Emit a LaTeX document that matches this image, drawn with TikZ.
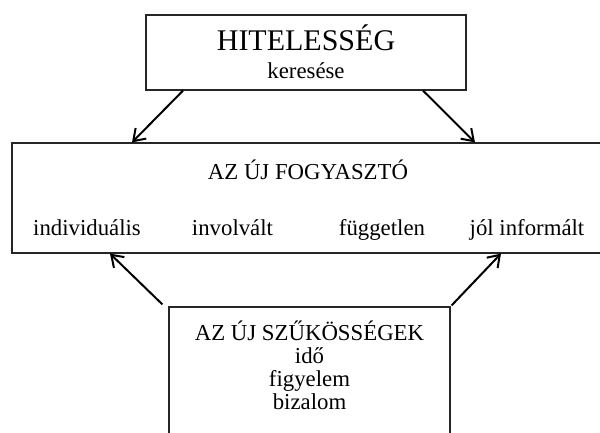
\documentclass[tikz,border=0pt]{standalone}
\usepackage{fontspec}
\setmainfont{Liberation Serif}
\usetikzlibrary{arrows.meta}
\begin{document}
\begin{tikzpicture}[x=1pt,y=-1pt,
  panel/.style={draw=black!85,line width=1.2pt,fill=white,inner sep=0pt},
  txt/.style={anchor=base,inner sep=0pt,font=\fontsize{22.8}{24}\selectfont},
  bigtxt/.style={anchor=base,inner sep=0pt,font=\fontsize{30}{32}\selectfont},
  arr/.style={line width=2pt,-{Straight Barb[length=11pt,width=15pt,line width=2pt]}}]
\useasboundingbox (0,0) rectangle (600,432);
% panels (the middle and bottom ones run past the page edge)
\node[panel,minimum width=320pt,minimum height=75pt] (top) at (306,52.5) {};
\node[panel,minimum width=592pt,minimum height=110pt] (cons) at (308,198) {};
\node[panel,minimum width=281pt,minimum height=143pt] (need) at (309.5,378.5) {};
% texts of the top panel
\node[bigtxt] (t1) at (306,50) {HITELESSÉG};
\node[txt] (t2) at (306,78) {keresése};
% texts of the middle panel
\node[txt] (c0) at (308,179) {AZ ÚJ FOGYASZTÓ};
\node[txt] (c1) at (87,235) {individuális};
\node[txt] (c2) at (232.5,235) {involvált};
\node[txt] (c3) at (382,235) {független};
\node[txt] (c4) at (527,235) {jól informált};
% texts of the bottom panel
\node[txt] (n0) at (309.5,340) {AZ ÚJ SZŰKÖSSÉGEK};
\node[txt] (n1) at (309.5,363) {idő};
\node[txt] (n2) at (309.5,386) {figyelem};
\node[txt] (n3) at (309.5,409) {bizalom};
% connectors
\draw[arr] ([xshift=-123pt]top.south) -- ([xshift=-176pt]cons.north);
\draw[arr] ([xshift=117pt]top.south) -- ([xshift=167pt]cons.north);
\draw[arr] ([xshift=-6pt,yshift=2pt]need.north west) -- ([xshift=-198pt]cons.south);
\draw[arr] ([xshift=1pt,yshift=1pt]need.north east) -- ([xshift=193pt]cons.south);
\end{tikzpicture}
\end{document}
